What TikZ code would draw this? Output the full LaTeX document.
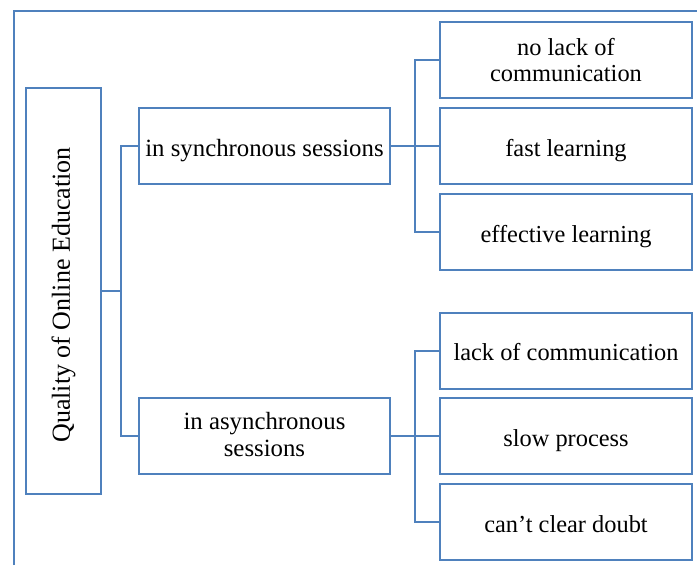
\documentclass[tikz,border=0pt]{standalone}
\usepackage{fontspec}
\usepackage{graphicx}
\setmainfont{Liberation Serif}
\definecolor{boxblue}{HTML}{4F81BD}
\newcommand\mybt[2]{\raisebox{#1}[\height][\depth]{\begin{tabular}{@{}c@{}}#2\end{tabular}}}
\begin{document}
\begin{tikzpicture}[x=0.75pt,y=-0.75pt,
  box/.style={draw=boxblue, line width=1.5pt, rectangle, align=center, inner sep=0pt,
    font=\fontsize{18.3}{20}\selectfont},
  midbox/.style={box, minimum width=188.25pt, minimum height=57pt,
    font=\fontsize{18.6}{20}\selectfont},
  leafbox/.style={box, minimum width=189pt, minimum height=57pt},
  conn/.style={draw=boxblue, line width=1.5pt},
  frame/.style={draw=boxblue, line width=1.5pt}]
\useasboundingbox (0,0) rectangle (697,565);
% frame
\coordinate (fbl) at (14,565);
\coordinate (ftr) at (697,11);
\draw[frame] (fbl) |- (ftr);
% root
\node[box, minimum width=56.25pt, minimum height=304.5pt,
  font=\fontsize{19.5}{21}\selectfont] (root) at (63.5,291)
  {\rotatebox{90}{Quality of Online Education\hspace{6pt}}};
% middle
\node[midbox] (sync) at (264.5,146) {\mybt{-3.5pt}{in synchronous sessions}};
\node[midbox] (async) at (264.5,435.5) {\mybt{-1.7pt}{in asynchronous\\sessions}};
% leaves
\node[leafbox] (l1) at (566,60) {\mybt{-2.4pt}{no lack of\\communication}};
\node[leafbox] (l2) at (566,146) {\mybt{-3.5pt}{fast learning}};
\node[leafbox] (l3) at (566,232) {\mybt{-3.5pt}{effective learning}};
\node[leafbox] (l4) at (566,350.5) {\mybt{-3.5pt}{lack of communication}};
\node[leafbox] (l5) at (566,436) {\mybt{-3.5pt}{slow process}};
\node[leafbox] (l6) at (566,522) {\mybt{-3.5pt}{can’t clear doubt}};
% connectors
\coordinate (j1) at (121,291);
\coordinate (j2) at (415,146);
\coordinate (j3) at (415,436);
\draw[conn] (root.east) -- (j1);
\draw[conn] (j1) |- (sync.west);
\draw[conn] (j1) |- (async.west);
\draw[conn] (sync.east) -- (j2);
\draw[conn] (j2) |- (l1.west);
\draw[conn] (j2) -- (l2.west);
\draw[conn] (j2) |- (l3.west);
\draw[conn] (async.east |- j3) -- (j3);
\draw[conn] (j3) |- (l4.west);
\draw[conn] (j3) -- (l5.west);
\draw[conn] (j3) |- (l6.west);
\end{tikzpicture}
\end{document}
